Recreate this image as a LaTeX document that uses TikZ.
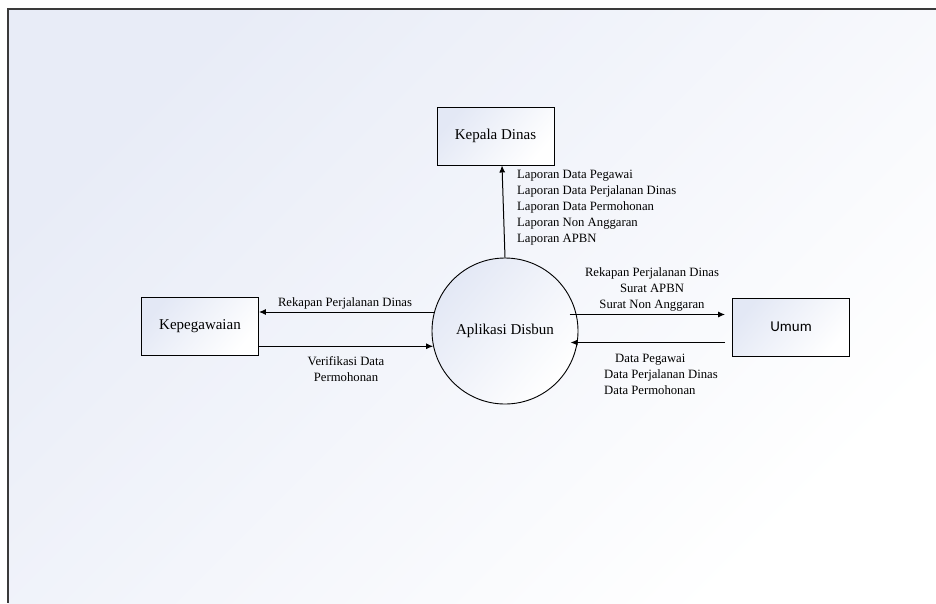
\documentclass[tikz,border=0pt]{standalone}
\usepackage{fontspec}
\setmainfont{Liberation Serif}
\newfontfamily\labelsans{Carlito}
\usetikzlibrary{arrows.meta}
\definecolor{pagetint}{HTML}{E8ECF7}
\definecolor{boxtint}{HTML}{E3E8F5}
\definecolor{framegrey}{HTML}{3A3A3A}
\tikzset{
  entity/.style={draw=black, line width=0.9pt, rectangle, minimum width=117pt,
    minimum height=58pt, inner sep=0pt, font=\fontsize{15}{18}\selectfont,
    top color=boxtint, bottom color=white, shading angle=50},
  process/.style={draw=black, line width=0.9pt, circle, minimum size=146pt,
    inner sep=0pt, font=\fontsize{15}{18}\selectfont,
    top color=boxtint, bottom color=white, shading angle=50},
  flow/.style={line width=1pt, -{Latex[length=7pt,width=6pt]}},
  flowtext/.style={font=\fontsize{12.7}{16}\selectfont, inner sep=0pt}
}
\begin{document}
\begin{tikzpicture}[x=1pt,y=-1pt]
  \useasboundingbox (0,0) rectangle (936,603);
  % page background and frame
  \shade[top color=pagetint, bottom color=white, shading angle=45] (8,9) rectangle (936,603);
  \draw[framegrey, line width=1.6pt] (8,603) -- (8,9) -- (936,9);

  % entities and process
  \node[entity] (kd) at (495.5,136) {Kepala Dinas};
  \node[entity] (kp) at (200,326.5) {Kepegawaian};
  \node[entity, font=\labelsans\fontsize{15}{18}\selectfont] (um) at (791,327) {Umum};
  \node[process] (ad) at (505,331) {Aplikasi Disbun};

  % data flows
  \draw[flow] (ad.north) -- ([xshift=6.5pt]kd.south);
  \draw[flow] (ad.165) -- (ad.165 -| kp.east);
  \draw[flow] (ad.192 -| kp.east) -- (ad.192);
  \draw[flow] ([xshift=-7pt]ad.13.5) -- ([xshift=-7pt]ad.13.5 -| um.west);
  \draw[flow] ([xshift=-7pt]ad.-9.5 -| um.west) -- ([xshift=-7pt]ad.-9.5);

  % flow labels
  \node[flowtext, align=left, anchor=west] (lkd) at (517,208)
    {Laporan Data Pegawai\\Laporan Data Perjalanan Dinas\\Laporan Data Permohonan\\Laporan Non Anggaran\\Laporan APBN};
  \node[flowtext] (lrk) at (345,303) {Rekapan Perjalanan Dinas};
  \node[flowtext, align=center] (lvd) at (346,369) {Verifikasi Data\\Permohonan};
  \node[flowtext, align=center] (lum) at (652,289) {Rekapan Perjalanan Dinas\\Surat APBN\\Surat Non Anggaran};
  \node[flowtext, align=left, anchor=west] (ldp) at (604,374)
    {\hspace*{11pt}Data Pegawai\\Data Perjalanan Dinas\\Data Permohonan};
\end{tikzpicture}
\end{document}
